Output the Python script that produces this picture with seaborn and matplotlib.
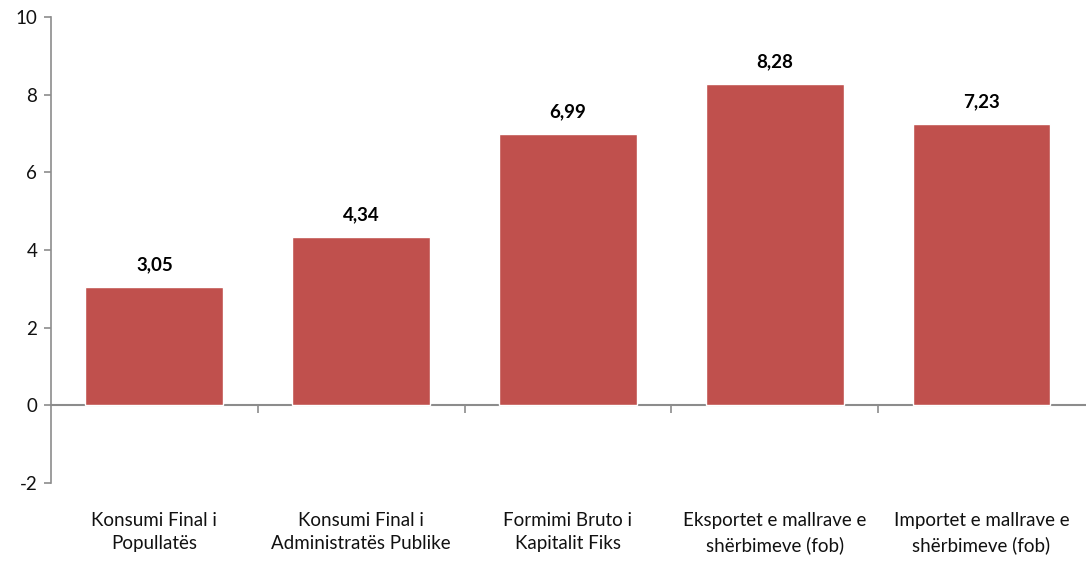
import matplotlib
matplotlib.use("Agg")
import pandas as pd
import seaborn as sns
import matplotlib.pyplot as plt

categories = [
    "Konsumi Final i\nPopullatës",
    "Konsumi Final i\nAdministratës Publike",
    "Formimi Bruto i\nKapitalit Fiks",
    "Eksportet e mallrave e\nshërbimeve (fob)",
    "Importet e mallrave e\nshërbimeve (fob)",
]
values = [3.05, 4.34, 6.99, 8.28, 7.23]
yticks = [-2, 0, 2, 4, 6, 8, 10]

df = pd.DataFrame({"category": categories, "value": values})

sns.set_style("white")
plt.rcParams["font.family"] = ["Lato", "DejaVu Sans"]
plt.rcParams["axes.unicode_minus"] = False

fig = plt.figure(figsize=(10.86, 5.61), dpi=100)
ax = fig.add_axes([0.047, 0.139, 0.952, 0.831])

sns.barplot(data=df, x="category", y="value", color="#C0504D",
            saturation=1, width=0.667, ax=ax)

ax.set_ylim(-2, 10)
ax.set_xlim(-0.5, 4.5)
ax.set_yticks(yticks)
ax.set_xlabel("")
ax.set_ylabel("")

# value labels with comma decimals
labels = [f"{v:.2f}".replace(".", ",") for v in values]
ax.bar_label(ax.containers[0], labels=labels, padding=10,
             fontsize=13.5, fontweight="bold", color="black")

gray = "#8c8c8c"
for side in ["top", "right", "bottom"]:
    ax.spines[side].set_visible(False)
ax.spines["left"].set_color(gray)
ax.spines["left"].set_linewidth(1.2)

ax.tick_params(axis="y", length=5, width=1.2, color=gray, labelsize=13.5,
               labelcolor="#111111", left=True, pad=5)
ax.tick_params(axis="x", length=0, labelsize=13.5, labelcolor="#111111", pad=21)
for t in ax.get_xticklabels():
    t.set_linespacing(1.45)

# zero line with separator ticks between categories
zero_frac = (0 - (-2)) / 12
sec = ax.secondary_xaxis(zero_frac)
sec.spines["bottom"].set_color(gray)
sec.spines["bottom"].set_linewidth(1.5)
sec.set_xticks([0.5, 1.5, 2.5, 3.5])
sec.tick_params(axis="x", length=6, width=1.2, color=gray, labelbottom=False)

fig.savefig("out.png", dpi=100)
